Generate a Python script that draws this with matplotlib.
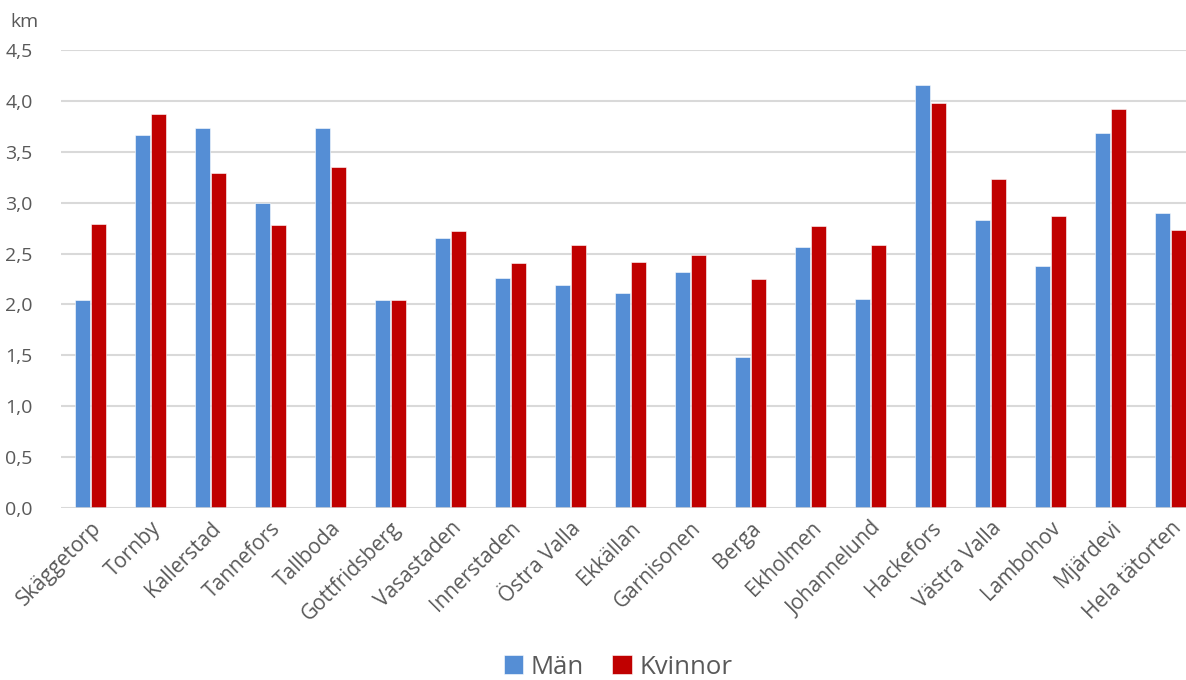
import matplotlib.pyplot as plt
import numpy as np
from matplotlib.ticker import FuncFormatter

omraden = ["Skäggetorp", "Tornby", "Kallerstad", "Tannefors", "Tallboda", "Gottfridsberg",
           "Vasastaden", "Innerstaden", "Östra Valla", "Ekkällan", "Garnisonen", "Berga",
           "Ekholmen", "Johannelund", "Hackefors", "Västra Valla", "Lambohov", "Mjärdevi",
           "Hela tätorten"]
man = [2.04, 3.66, 3.73, 3.00, 3.73, 2.04, 2.65, 2.26, 2.19, 2.11, 2.32, 1.48,
       2.56, 2.05, 4.16, 2.83, 2.38, 3.68, 2.90]
kvinnor = [2.79, 3.87, 3.29, 2.78, 3.35, 2.04, 2.72, 2.41, 2.58, 2.42, 2.49, 2.25,
           2.77, 2.58, 3.98, 3.23, 2.87, 3.92, 2.73]

BLUE = "#558ED5"
RED = "#C00000"
GREY = "#595959"

plt.rcParams["font.family"] = ["Open Sans", "DejaVu Sans"]

fig = plt.figure(figsize=(11.86, 6.80), dpi=100)
# axes runs past the right edge, as in the cropped original
ax = fig.add_axes([60.5 / 1186, 1 - 508 / 680, 1140 / 1186, (508 - 50) / 680])

x = np.arange(len(omraden))
w = 0.25
off = 0.139
ax.bar(x - off, man, width=w, color=BLUE, edgecolor="white", linewidth=0.4, label="Män", zorder=3)
ax.bar(x + off, kvinnor, width=w, color=RED, edgecolor="white", linewidth=0.4, label="Kvinnor", zorder=3)

ax.set_xlim(-0.5, len(omraden) - 0.5)
ax.set_ylim(0, 4.5)
ax.set_yticks(np.arange(0, 4.51, 0.5))
ax.yaxis.set_major_formatter(FuncFormatter(lambda v, _: f"{v:.1f}".replace(".", ",")))
ax.grid(axis="y", color="#D9D9D9", linewidth=1.5, zorder=0)
ax.axhline(0, color="#D9D9D9", linewidth=1.8, zorder=4)
for s in ax.spines.values():
    s.set_visible(False)
ax.tick_params(axis="y", length=0, colors=GREY, labelsize=14, pad=20)

ax.set_xticks(x)
ax.set_xticklabels(omraden, rotation=45, ha="right", va="top", rotation_mode="anchor")
ax.tick_params(axis="x", length=0, colors=GREY, labelsize=15, pad=7)

fig.text(10 / 1186, 1 - 22 / 680, "km", fontsize=14, color=GREY, va="center", ha="left")

leg = fig.legend(loc="center", bbox_to_anchor=(618 / 1186, 1 - 667 / 680), ncol=2,
                 frameon=False, fontsize=18.5, handlelength=0.75, handleheight=0.75,
                 handletextpad=0.3, columnspacing=1.1)
for t in leg.get_texts():
    t.set_color(GREY)

fig.savefig("out.png", dpi=100)
